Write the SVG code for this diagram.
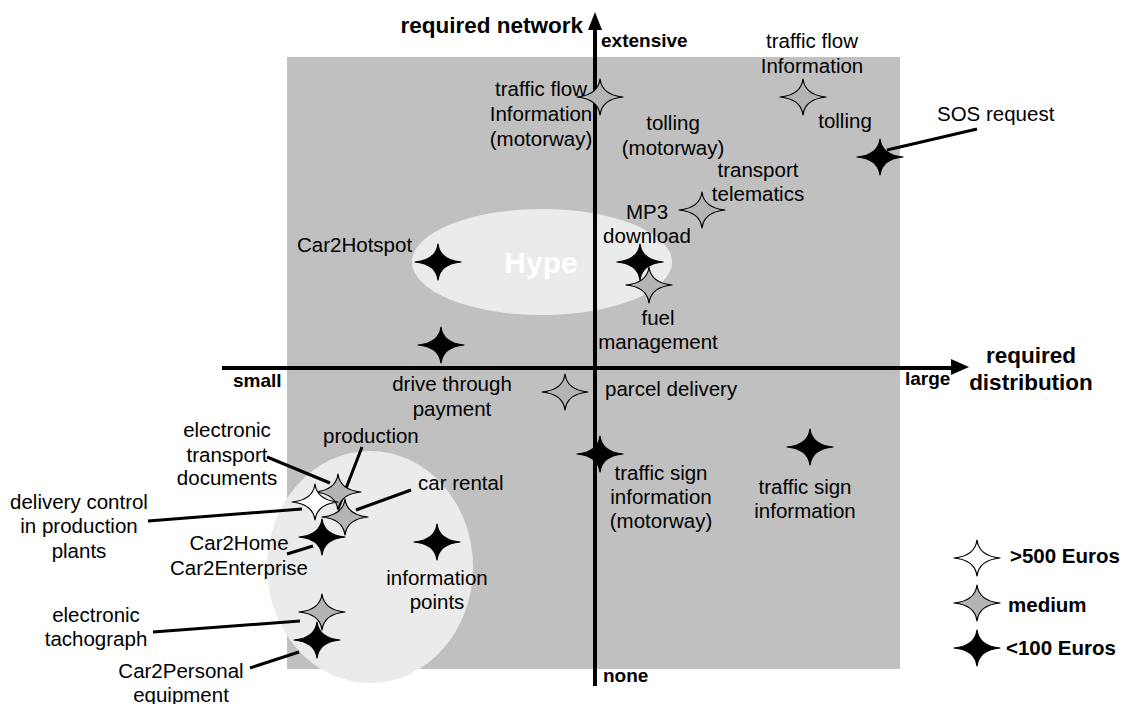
<svg xmlns="http://www.w3.org/2000/svg" width="1126" height="704" viewBox="0 0 1126 704">
<style>
text{font-family:"Liberation Sans",Arial,sans-serif;fill:#000}
.lb{font-size:20.5px}
.c{text-anchor:middle}
.ax{font-size:19px;font-weight:bold}
.big{font-size:22.5px;font-weight:bold}
.lg{font-size:20.5px;font-weight:bold}
.st{stroke:#000;stroke-width:1.2;stroke-linejoin:round}
.w{fill:#fff}.m{fill:#b4b4b4}.b{fill:#000}
.ld{stroke:#000;stroke-width:3;fill:none}
.axis{stroke:#000;stroke-width:4;fill:none}
</style>
<defs>
<path id="star" d="M0,-18 Q2,-2 23,0 Q2,2 0,18 Q-2,2 -23,0 Q-2,-2 0,-18Z"/>
</defs>
<rect width="1126" height="704" fill="#fff"/>
<rect x="287" y="57" width="613" height="612" fill="#c0c0c0"/>
<ellipse cx="542" cy="262" rx="130" ry="53" fill="#ebebeb"/>
<ellipse cx="370" cy="567" rx="103" ry="116" fill="#ebebeb"/>
<text x="541" y="273" class="c" style="font-size:30px;font-weight:bold;fill:#fff">Hype</text>

<g id="axes">
<line x1="595" y1="26" x2="595" y2="686" class="axis"/>
<polygon points="595,12 602,30 588,30" fill="#000"/>
<line x1="222" y1="368" x2="954" y2="368" class="axis"/>
<polygon points="969,367 951,359 951,375" fill="#000"/>
<text x="583" y="33" class="big" text-anchor="end">required network</text>
<text x="601" y="47" class="ax">extensive</text>
<text x="603" y="682" class="ax">none</text>
<text x="233" y="387" class="ax">small</text>
<text x="905" y="385" class="ax">large</text>
<text x="1031" y="363" class="big c">required</text>
<text x="1031" y="390" class="big c">distribution</text>
</g>

<g id="connectors">
<line x1="887" y1="150" x2="977" y2="129" class="ld"/>
<line x1="267" y1="457" x2="330" y2="483" class="ld"/>
<line x1="362" y1="447" x2="338" y2="509" class="ld"/>
<line x1="411" y1="490" x2="356" y2="510" class="ld"/>
<line x1="148" y1="521" x2="302" y2="509" class="ld"/>
<line x1="287" y1="554" x2="313" y2="546" class="ld"/>
<line x1="153" y1="632" x2="300" y2="621" class="ld"/>
<line x1="250" y1="668" x2="299" y2="652" class="ld"/>
</g>

<g id="n-tfi-motorway"><use href="#star" x="600" y="97" class="st m"/>
<text class="lb c" x="541" y="96">traffic flow</text><text class="lb c" x="541" y="121">Information</text><text class="lb c" x="541" y="146">(motorway)</text></g>
<g id="n-tfi"><use href="#star" x="803" y="97" class="st m"/>
<text class="lb c" x="812" y="48">traffic flow</text><text class="lb c" x="812" y="73">Information</text></g>
<g id="n-tolling-motorway"><text class="lb c" x="673" y="130">tolling</text><text class="lb c" x="673" y="155">(motorway)</text></g>
<g id="n-tolling"><text class="lb c" x="845" y="128">tolling</text></g>
<g id="n-sos"><use href="#star" x="880" y="157" class="st b"/>
<text class="lb" x="937" y="121">SOS request</text></g>
<g id="n-telematics"><use href="#star" x="702" y="210" class="st m"/>
<text class="lb c" x="758" y="177">transport</text><text class="lb c" x="758" y="201">telematics</text></g>
<g id="n-mp3"><use href="#star" x="640" y="262" class="st b"/>
<text class="lb c" x="647" y="219">MP3</text><text class="lb c" x="647" y="243">download</text></g>
<g id="n-fuel"><use href="#star" x="649" y="285" class="st m"/>
<text class="lb c" x="658" y="325">fuel</text><text class="lb c" x="658" y="349">management</text></g>
<g id="n-hotspot"><use href="#star" x="438" y="262" class="st b"/>
<text class="lb" x="297" y="252">Car2Hotspot</text></g>
<g id="n-drive"><use href="#star" x="441" y="345" class="st b"/>
<text class="lb c" x="452" y="391">drive through</text><text class="lb c" x="452" y="416">payment</text></g>
<g id="n-parcel"><use href="#star" x="565" y="392" class="st m"/>
<text class="lb" x="605" y="396">parcel delivery</text></g>
<g id="n-tsi-motorway"><use href="#star" x="600" y="454" class="st b"/>
<text class="lb c" x="661" y="480">traffic sign</text><text class="lb c" x="661" y="504">information</text><text class="lb c" x="661" y="528">(motorway)</text></g>
<g id="n-tsi"><use href="#star" x="810" y="447" class="st b"/>
<text class="lb c" x="805" y="494">traffic sign</text><text class="lb c" x="805" y="518">information</text></g>
<g id="n-infopoints"><use href="#star" x="437" y="542" class="st b"/>
<text class="lb c" x="437" y="585">information</text><text class="lb c" x="437" y="609">points</text></g>
<g id="n-production"><use href="#star" x="338" y="492" class="st m"/>
<text class="lb" x="323" y="443">production</text></g>
<g id="n-etd"><text class="lb c" x="227" y="437">electronic</text><text class="lb c" x="227" y="462">transport</text><text class="lb c" x="227" y="485">documents</text></g>
<g id="n-delivery"><use href="#star" x="315" y="502" class="st w"/>
<text class="lb c" x="79" y="509">delivery control</text><text class="lb c" x="79" y="533">in production</text><text class="lb c" x="79" y="558">plants</text></g>
<g id="n-carrental"><use href="#star" x="345" y="517" class="st m"/>
<text class="lb" x="418" y="490">car rental</text></g>
<g id="n-car2home"><use href="#star" x="322" y="537" class="st b"/>
<text class="lb c" x="239" y="550">Car2Home</text><text class="lb c" x="239" y="575">Car2Enterprise</text></g>
<g id="n-tacho"><use href="#star" x="322" y="612" class="st m"/>
<text class="lb c" x="96" y="622">electronic</text><text class="lb c" x="96" y="646">tachograph</text></g>
<g id="n-personal"><use href="#star" x="317" y="640" class="st b"/>
<text class="lb c" x="181" y="678">Car2Personal</text><text class="lb c" x="181" y="702">equipment</text></g>

<g id="legend">
<use href="#star" x="977" y="558" class="st w"/><text class="lg" x="1010" y="563">&gt;500 Euros</text>
<use href="#star" x="977" y="603" class="st m"/><text class="lg" x="1008" y="612">medium</text>
<use href="#star" x="977" y="648" class="st b"/><text class="lg" x="1006" y="655">&lt;100 Euros</text>
</g>
</svg>
